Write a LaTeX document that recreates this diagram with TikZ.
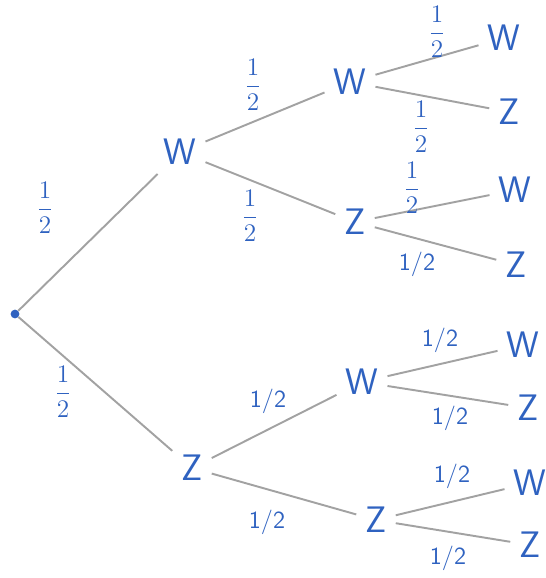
\documentclass[tikz,border=0pt]{standalone}
\usepackage{amsmath}
\usepackage{tikz}
\usetikzlibrary{positioning}
\definecolor{ink}{HTML}{2F62C0}
\definecolor{twig}{HTML}{A2A2A2}

\begin{document}
\begin{tikzpicture}[x=0.02cm, y=-0.02cm,
  outcome/.style={text=ink, font=\sffamily\fontsize{21}{24}\selectfont, inner sep=5pt},
  prob/.style={text=ink, font=\sffamily\fontsize{14}{16}\selectfont, inner sep=1pt},
  branch/.style={draw=twig, line width=1.1pt}
]
  \useasboundingbox (0,0) rectangle (545,578);

  % root and first level
  \node[circle, fill=ink, inner sep=0pt, minimum size=5pt] (root) at (15,314) {};
  \node[outcome] (w) at (180,152) {W};
  \node[outcome] (z) at (192,468) {Z};

  % second level
  \node[outcome] (ww) at (350,82) {W};
  \node[outcome] (wz) at (355,222) {Z};
  \node[outcome] (zw) at (362,382) {W};
  \node[outcome] (zz) at (376,520) {Z};

  % leaves
  \node[outcome] (www) at (504,38) {W};
  \node[outcome] (wwz) at (509,112) {Z};
  \node[outcome] (wzw) at (515,190) {W};
  \node[outcome] (wzz) at (516,265) {Z};
  \node[outcome] (zww) at (523,345) {W};
  \node[outcome] (zwz) at (528,408) {Z};
  \node[outcome] (zzw) at (530,483) {W};
  \node[outcome] (zzz) at (530,545) {Z};

  % branches
  \draw[branch] (root) -- (w);
  \draw[branch] (root) -- (z);
  \draw[branch] (w) -- (ww);
  \draw[branch] (w) -- (wz);
  \draw[branch] (z) -- (zw);
  \draw[branch] (z) -- (zz);
  \draw[branch] (ww) -- (www);
  \draw[branch] (ww) -- (wwz);
  \draw[branch] (wz) -- (wzw);
  \draw[branch] (wz) -- (wzz);
  \draw[branch] (zw) -- (zww);
  \draw[branch] (zw) -- (zwz);
  \draw[branch] (zz) -- (zzw);
  \draw[branch] (zz) -- (zzz);

  % probabilities
  \node[prob] (pw) at (45,208) {$\dfrac{1}{2}$};
  \node[prob] (pz) at (63,392) {$\dfrac{1}{2}$};
  \node[prob] (pww) at (253,85) {$\dfrac{1}{2}$};
  \node[prob] (pwz) at (250,216) {$\dfrac{1}{2}$};
  \node[prob] (pzw) at (268,401) {1/2};
  \node[prob] (pzz) at (267,522) {1/2};
  \node[prob] (pwww) at (437,32) {$\dfrac{1}{2}$};
  \node[prob] (pwwz) at (421,127) {$\dfrac{1}{2}$};
  \node[prob] (pwzw) at (412,188) {$\dfrac{1}{2}$};
  \node[prob] (pwzz) at (417,264) {1/2};
  \node[prob] (pzww) at (440,340) {1/2};
  \node[prob] (pzwz) at (450,418) {1/2};
  \node[prob] (pzzw) at (452,476) {1/2};
  \node[prob] (pzzz) at (448,558) {1/2};
\end{tikzpicture}
\end{document}
